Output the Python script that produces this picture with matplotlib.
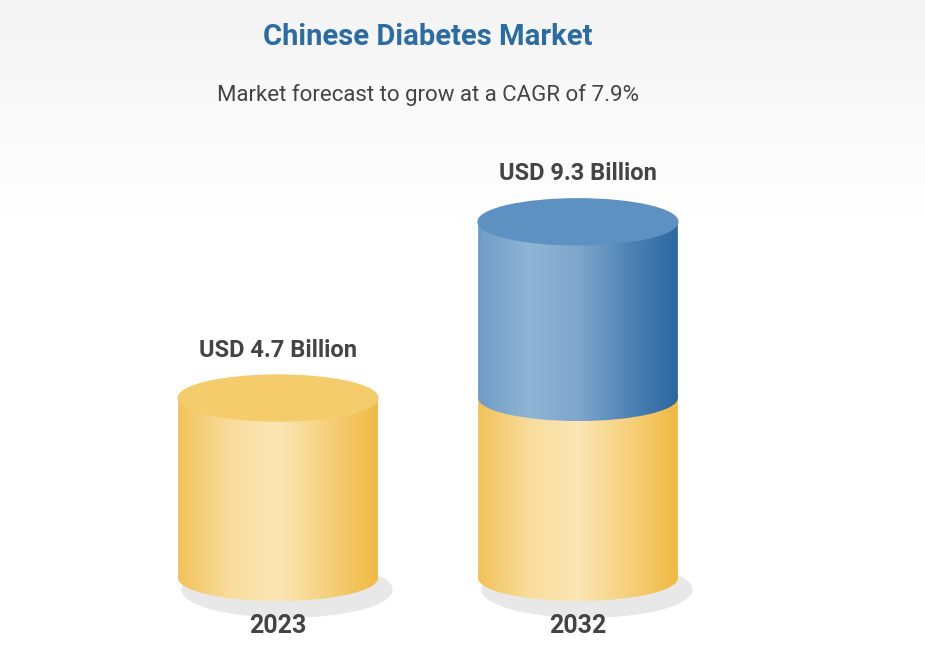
import numpy as np
import matplotlib.pyplot as plt
from matplotlib.patches import Ellipse, Rectangle, PathPatch
from matplotlib.path import Path
from matplotlib.colors import LinearSegmentedColormap

plt.rcParams['font.family'] = ['Roboto', 'DejaVu Sans']

years = ['2023', '2032']
values = [4.7, 9.3]
base_value = 4.7
labels = ['USD 4.7 Billion', 'USD 9.3 Billion']

yellow = LinearSegmentedColormap.from_list('y', ['#f1c25a', '#f8dc9a', '#fbe6b6', '#f6d07c', '#f0b943'])
blue = LinearSegmentedColormap.from_list('b', ['#6f9cc6', '#8fb4d4', '#7fa7cc', '#4f84b6', '#2c68a0'])

fig = plt.figure(figsize=(9.25, 6.57), dpi=100)
bg = fig.add_axes([0, 0, 1, 1])
bg.axis('off')
grad = np.linspace(0, 1, 256).reshape(-1, 1)
bg.imshow(grad, aspect='auto', extent=[0, 1, 0, 1],
          cmap=LinearSegmentedColormap.from_list('g', ['#ffffff', '#ffffff', '#ffffff', '#f4f4f4']), origin='lower')

ax = fig.add_axes([0, 0, 1, 1])
ax.set_xlim(-0.927, 2.157)
ax.set_ylim(-2.06, 15.09)
ax.axis('off')

w = 0.333   # half width
ry = 0.6    # ellipse half-height
xs = np.arange(len(years))


def body(x0, y0, y1, cmap):
    img = np.linspace(0, 1, 256).reshape(1, -1)
    im = ax.imshow(img, aspect='auto', cmap=cmap, extent=[x0 - w, x0 + w, y0 - ry, y1], zorder=3)
    clip = Rectangle((x0 - w, y0), 2 * w, y1 - y0)
    bottom = Ellipse((x0, y0), 2 * w, 2 * ry)
    p = Path.make_compound_path(clip.get_path().transformed(clip.get_patch_transform()),
                                bottom.get_path().transformed(bottom.get_patch_transform()))
    pp = PathPatch(p, transform=ax.transData, facecolor='none', edgecolor='none')
    ax.add_patch(pp)
    im.set_clip_path(pp)


for x, v, lab, yr in zip(xs, values, labels, years):
    ax.add_patch(Ellipse((x + 0.03, -0.3), 2 * w * 1.05, 2 * ry * 1.2, color='#e8e8e8', zorder=2))
    body(x, 0, min(v, base_value), yellow)
    if v > base_value:
        body(x, base_value, v, blue)
        top_col = '#5d91c1'
    else:
        top_col = '#f5cc6c'
    ax.add_patch(Ellipse((x, v), 2 * w, 2 * ry, color=top_col, zorder=4))
    ax.text(x, v + 1.25, lab, ha='center', va='center', fontsize=17, fontweight='bold', color='#444444', zorder=5)
    ax.text(x, -1.25, yr, ha='center', va='center', fontsize=18, fontweight='bold', color='#444444', zorder=5)

fig.text(0.462, 0.943, 'Chinese Diabetes Market', ha='center', va='center', fontsize=21,
         fontweight='bold', color='#2b6ca3')
fig.text(0.463, 0.855, 'Market forecast to grow at a CAGR of 7.9%', ha='center', va='center',
         fontsize=16, color='#444444')

fig.savefig('out.png', dpi=100)
